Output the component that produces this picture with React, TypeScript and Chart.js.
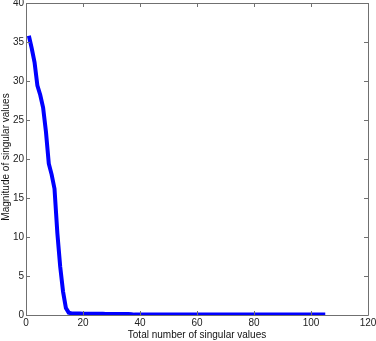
import React, { useEffect, useRef } from "react";
import { Chart, registerables } from "chart.js";

Chart.register(...registerables);

const xValues: number[] = Array.from({ length: 105 }, (_, i) => i + 1);
const headValues: number[] = [35.8, 34.2, 32.4, 29.4, 28.2, 26.6, 23.5, 19.4, 18.0, 16.2, 10.5, 6.2, 3.0, 0.9, 0.3];
const midValues: number[] = [0.2, 0.19, 0.18, 0.18, 0.17, 0.17, 0.16, 0.16, 0.16, 0.15, 0.15, 0.15, 0.14, 0.14, 0.14, 0.13, 0.13, 0.13, 0.12, 0.12, 0.12, 0.11];
const tailValue = 0.05;
const yValues: number[] = xValues.map((x, i) =>
  i < headValues.length ? headValues[i] : i < headValues.length + midValues.length ? midValues[i - headValues.length] : tailValue
);
const xTicks: number[] = [0, 20, 40, 60, 80, 100, 120];
const yTicks: number[] = [0, 5, 10, 15, 20, 25, 30, 35, 40];
const xTitle = "Total number of singular values";
const yTitle = "Magnitude of singular values";

const FONT = "10px 'Liberation Sans', Arial, sans-serif";

const boxPlugin = {
  id: "matlabBox",
  afterDraw(chart: any) {
    const { ctx, chartArea } = chart;
    const xs = chart.scales.x;
    const ys = chart.scales.y;
    const { left, right, top, bottom } = chartArea;
    ctx.save();
    ctx.strokeStyle = "#707070";
    ctx.lineWidth = 1;
    ctx.beginPath();
    ctx.rect(Math.round(left) + 0.5, Math.round(top) + 0.5, Math.round(right - left), Math.round(bottom - top));
    ctx.stroke();
    const tl = 4;
    ctx.beginPath();
    xTicks.forEach((v) => {
      const px = Math.round(xs.getPixelForValue(v)) + 0.5;
      ctx.moveTo(px, bottom);
      ctx.lineTo(px, bottom - tl);
      ctx.moveTo(px, top);
      ctx.lineTo(px, top + tl);
    });
    yTicks.forEach((v) => {
      const py = Math.round(ys.getPixelForValue(v)) + 0.5;
      ctx.moveTo(left, py);
      ctx.lineTo(left + tl, py);
      ctx.moveTo(right, py);
      ctx.lineTo(right - tl, py);
    });
    ctx.stroke();

    ctx.fillStyle = "#222";
    ctx.font = FONT;
    ctx.textAlign = "center";
    ctx.textBaseline = "middle";
    xTicks.forEach((v) => {
      ctx.fillText(String(v), xs.getPixelForValue(v), bottom + 8);
    });
    ctx.textAlign = "right";
    yTicks.forEach((v) => {
      ctx.fillText(String(v), left - 2, ys.getPixelForValue(v));
    });
    ctx.fillStyle = "#111";
    ctx.textAlign = "center";
    ctx.fillText(xTitle, (left + right) / 2, bottom + 20);
    ctx.translate(6, (top + bottom) / 2 - 2);
    ctx.rotate(-Math.PI / 2);
    ctx.fillText(yTitle, 0, 0);
    ctx.restore();
  },
};

export default function App() {
  const ref = useRef<HTMLCanvasElement | null>(null);
  useEffect(() => {
    if (!ref.current) return;
    const chart = new Chart(ref.current, {
      type: "line",
      data: {
        labels: xValues,
        datasets: [
          {
            data: xValues.map((x, i) => ({ x, y: yValues[i] })),
            borderColor: "#0000ff",
            borderWidth: 4,
            pointRadius: 0,
            tension: 0,
            fill: false,
          },
        ],
      },
      options: {
        animation: false,
        responsive: false,
        maintainAspectRatio: false,
        layout: { padding: { top: 3, right: 8, left: 0, bottom: 0 } },
        plugins: { legend: { display: false }, tooltip: { enabled: false } },
        scales: {
          x: {
            type: "linear",
            min: 0,
            max: 120,
            afterBuildTicks: (s: any) => {
              s.ticks = xTicks.map((v) => ({ value: v }));
            },
            afterFit: (s: any) => {
              s.height = 26;
            },
            grid: { display: false, drawTicks: false },
            border: { display: false },
            ticks: { display: false },
            title: { display: false, text: xTitle },
          },
          y: {
            type: "linear",
            min: 0,
            max: 40,
            afterBuildTicks: (s: any) => {
              s.ticks = yTicks.map((v) => ({ value: v }));
            },
            afterFit: (s: any) => {
              s.width = 26;
            },
            grid: { display: false, drawTicks: false },
            border: { display: false },
            ticks: { display: false },
            title: { display: false, text: yTitle },
          },
        },
      },
      plugins: [boxPlugin],
    });
    return () => chart.destroy();
  }, []);
  return (
    <div style={{ position: "fixed", left: 0, top: 0, width: 376, height: 341, background: "#fff" }}>
      <canvas ref={ref} width={376} height={341} style={{ width: 376, height: 341, display: "block" }} />
    </div>
  );
}
